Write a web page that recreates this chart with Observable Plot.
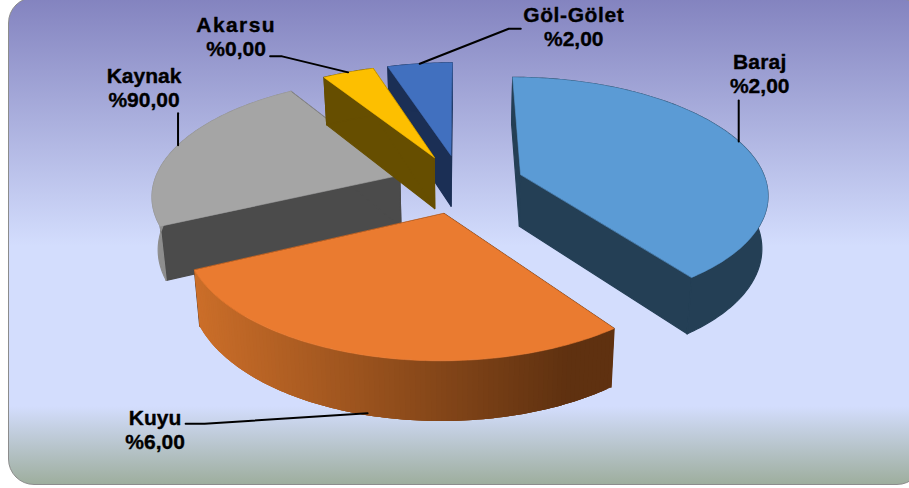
<!DOCTYPE html>
<html>
<head>
<meta charset="utf-8">
<script src="https://cdn.jsdelivr.net/npm/d3@7"></script>
<script src="https://cdn.jsdelivr.net/npm/@observablehq/plot@0.6"></script>
<style>
  html, body { margin: 0; padding: 0; background: #fff; }
  #chart { position: relative; width: 909px; height: 488px; overflow: hidden; }
  #panel { position: absolute; left: 8px; top: -3px; width: 915px; height: 488px; box-sizing: border-box;
           border: 1.5px solid #8c8c8c; border-radius: 26px;
           background: linear-gradient(to bottom, #8383bf 0%, #d3ddfd 51%, #d3ddfd 84%, #9eae9e 100%); }
  #chart svg { position: absolute; left: 0; top: 0; background: transparent; overflow: visible; }
</style>
</head>
<body>
<div id="chart"><div id="panel"></div></div>
<script>
// Slices, clockwise from the back of the pie
const names = ["Baraj", "Kuyu", "Kaynak", "Akarsu", "Göl-Gölet"];
const printed = ["%2,00", "%6,00", "%90,00", "%0,00", "%2,00"];
const shares = [40, 28, 23, 4, 5]; // drawn share of each slice

// Styles
const topColors = ["#5b9bd5", "#ea7b30", "#a5a5a5", "#fdbf00", "#4170bf"];
const sideColors = ["#243f55", "#5f3110", "#4b4b4b", "#664e00", "#1b2f55"];
const rimColors = ["#243f55", null, "#8e8e8e", "#664e00", "#1b2f55"];
const nameTracking = [0.2, 0, 0, 1.4, 0.6];
const paintOrder = [2, 4, 3, 0, 1];

// Perspective view of the pie
const view = {cx: 460, cy: 183, a: 246, b: 114.5, k: 0.153, explode: 0.26, shrink: 0.98, d0: 44, d1: 0.045};
function project(wx, wy) {
  const w = 1 + view.k * wy;
  return [view.cx + view.a * wx / w, view.cy - view.b * wy / w];
}
const under = ([x, y]) => [view.cx + (x - view.cx) * view.shrink, y + view.d0 + view.d1 * y];

// Angles from the shares
const total = d3.sum(shares);
let run = 0;
const slices = shares.map((v, i) => {
  const a0 = run / total * 2 * Math.PI;
  run += v;
  const a1 = run / total * 2 * Math.PI;
  const mid = (a0 + a1) / 2;
  const ox = view.explode * Math.sin(mid), oy = view.explode * Math.cos(mid);
  const rim = t => project(ox + Math.sin(t), oy + Math.cos(t));
  const n = Math.max(4, Math.ceil((a1 - a0) / (1 * Math.PI / 180)));
  const angles = d3.range(n + 1).map(j => a0 + (a1 - a0) * j / n);
  return {i, a0, a1, mid, apex: project(ox, oy), rim, angles};
});

// Faces become closed polygons
const faces = [];
let faceId = 0;
const addFace = (pts, fill, stroke = fill, width = 0.6) => {
  const id = faceId++;
  pts.forEach(([x, y]) => faces.push({x, y, id, fill, stroke, width}));
};
const kuyuRamp = d3.interpolateRgb("#cb6e29", "#5f3110");
for (const i of paintOrder) {
  const s = slices[i];
  const rimPts = s.angles.map(s.rim);
  const last = rimPts[rimPts.length - 1];
  // the two cut walls
  addFace([s.apex, rimPts[0], under(rimPts[0]), under(s.apex)], sideColors[i], sideColors[i], 1.2);
  addFace([s.apex, last, under(last), under(s.apex)], sideColors[i], sideColors[i], 1.2);
  // outer wall: one polygon, or overlapping bands where it is shaded
  if (rimColors[i]) {
    addFace([...rimPts, ...rimPts.map(under).reverse()], rimColors[i], rimColors[i], 1.2);
  } else {
    rimPts.slice(0, -1).forEach((p, j) => {
      const span = rimPts.slice(j, j + 4);
      const t = Math.min(1, Math.max(0, (span[0][0] - 195) / (570 - 195)));
      addFace([...span, ...span.map(under).reverse()], kuyuRamp(t), "none");
    });
  }
  // top
  addFace([s.apex, ...rimPts], topColors[i]);
}

// Leader lines start on the slice's rim at its bisector; the rest is offset from there
const leaderStarts = [[0, 0], [0, -2], [0, 0], [0, 0], [0, 0]];
const leaderBends = [
  [[0, -41]],
  [[-163, 8.5], [-182, 8.5]],
  [[0, -32]],
  [[-66, -16], [-78, -16]],
  [[89, -35], [101, -35]]
];
const labelOffsets = [[21, -68.5], [-212.5, 14], [-34, -58], [-112, -36], [154, -37.5]];
const leaders = [];
const labels = [];
slices.forEach((s, i) => {
  let p = s.rim(s.mid);
  if (i === 1) p = under(p); // the Kuyu leader touches the lower rim
  leaders.push({x: p[0] + leaderStarts[i][0], y: p[1] + leaderStarts[i][1], i});
  leaderBends[i].forEach(([dx, dy]) => leaders.push({x: p[0] + dx, y: p[1] + dy, i}));
  labels.push({x: p[0] + labelOffsets[i][0], y: p[1] + labelOffsets[i][1], text: names[i] + "\n" + printed[i]});
});

const plot = Plot.plot({
  width: 909,
  height: 488,
  margin: 0,
  x: {axis: null, domain: [0, 909], range: [0, 909]},
  y: {axis: null, domain: [0, 488], range: [0, 488]},
  color: {type: "identity"},
  marks: [
    Plot.line(faces, {x: "x", y: "y", z: "id", fill: "fill", stroke: "stroke", strokeWidth: "width", curve: "linear-closed"}),
    Plot.line(leaders, {x: "x", y: "y", z: "i", stroke: "#000", strokeWidth: 2}),
    Plot.text(labels, {x: "x", y: "y", text: "text", fontFamily: "Liberation Sans, Arial, sans-serif",
      fontSize: 21, fontWeight: "bold", fill: "#000", stroke: "#000", strokeWidth: 0.35, lineHeight: 1.14,
      textAnchor: "middle", lineAnchor: "middle"})
  ]
});
// Some names are set more loosely than others in the picture
plot.querySelectorAll("text").forEach((el, i) => {
  const first = el.querySelector("tspan");
  if (first && nameTracking[i]) first.style.letterSpacing = nameTracking[i] + "px";
});
document.getElementById("chart").append(plot);
</script>
</body>
</html>
